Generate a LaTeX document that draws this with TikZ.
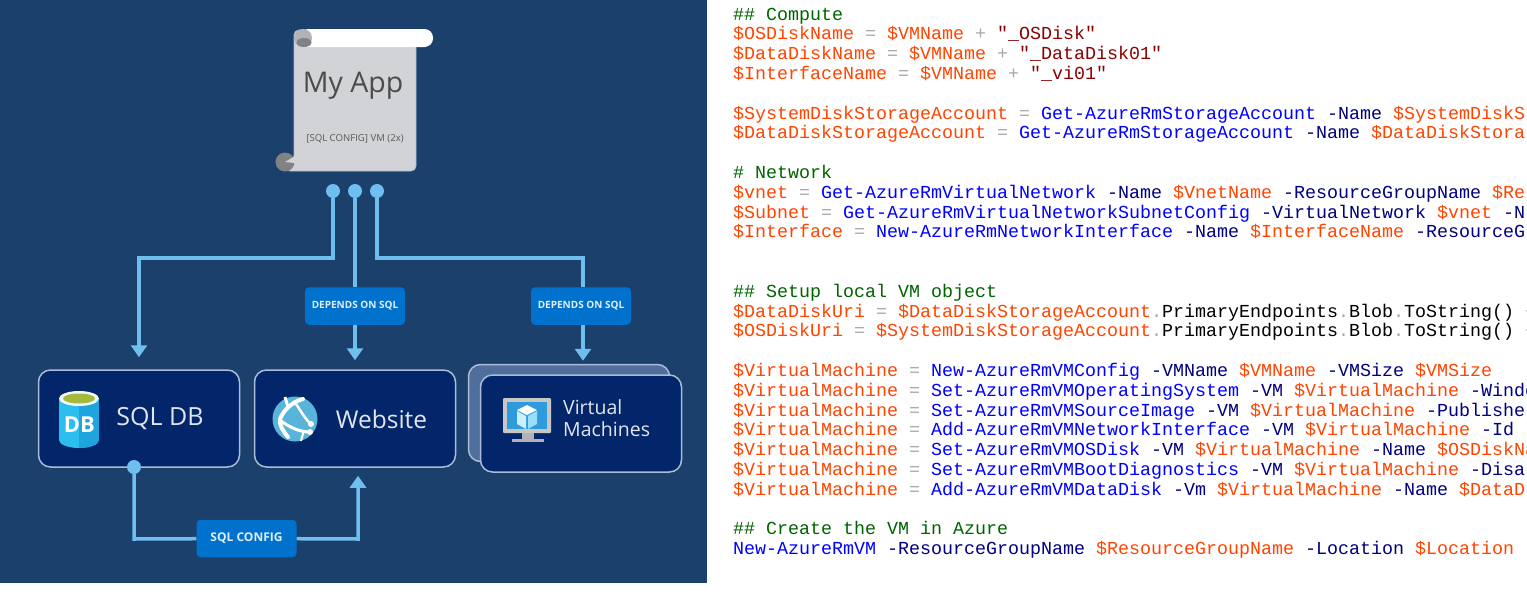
\documentclass[tikz,border=0pt]{standalone}
\usepackage{fontspec}
\setmainfont{Open Sans}
\setmonofont{Liberation Mono}
\usetikzlibrary{arrows.meta,positioning}
\definecolor{panelblue}{RGB}{26,64,107}
\definecolor{boxnavy}{RGB}{3,38,107}
\definecolor{boxrim}{RGB}{170,188,215}
\definecolor{backbox}{RGB}{80,110,155}
\definecolor{linkblue}{RGB}{110,190,240}
\definecolor{tagblue}{RGB}{0,114,206}
\definecolor{scrollgrey}{RGB}{210,211,214}
\definecolor{rollgrey}{RGB}{128,130,134}
\definecolor{dbcyan}{RGB}{45,190,240}
\definecolor{dbshade}{RGB}{30,165,222}
\definecolor{dbolive}{RGB}{165,185,60}
\definecolor{globeblue}{RGB}{89,180,217}
\definecolor{psorange}{RGB}{255,69,0}
\definecolor{psblue}{RGB}{0,0,255}
\definecolor{psnavy}{RGB}{0,0,128}
\definecolor{psgrey}{RGB}{169,169,169}
\definecolor{psred}{RGB}{139,0,0}
\definecolor{psgreen}{RGB}{0,100,0}
\newcommand{\psvar}[1]{\textcolor{psorange}{\$#1}}
\newcommand{\pscmd}[1]{\textcolor{psblue}{#1}}
\newcommand{\psarg}[1]{\textcolor{psnavy}{#1}}
\newcommand{\psop}[1]{\textcolor{psgrey}{#1}}
\newcommand{\psstr}[1]{\textcolor{psred}{#1}}
\newcommand{\pscom}[1]{\textcolor{psgreen}{#1}}
\tikzset{
  servicebox/.style={draw=boxrim,fill=boxnavy,line width=1.5pt,rounded corners=12pt,minimum width=201pt,minimum height=97pt,inner sep=0pt},
  tagbox/.style={fill=tagblue,rounded corners=4pt,minimum width=100pt,minimum height=37.5pt,inner sep=0pt,text=white!88!tagblue,font=\fontsize{10}{12}\selectfont\bfseries},
  linkdot/.style={circle,fill=linkblue,minimum size=14pt,inner sep=0pt},
  link/.style={draw=linkblue,line width=3.5pt},
  linkarrow/.style={link,-{Triangle[width=16pt,length=12pt]}},
  servicelabel/.style={text=white!88!boxnavy,inner sep=0pt},
  codeline/.style={anchor=base west,inner sep=0pt,font=\ttfamily\fontsize{18.33}{20}\selectfont}
}
\begin{document}
\begin{tikzpicture}[x=1pt,y=-1pt]
\useasboundingbox (0,0) rectangle (1527,603);
\fill[white] (0,0) rectangle (1527,603);
\fill[panelblue] (0,0) rectangle (707,583);

% Scroll
\fill[scrollgrey,draw=boxrim,line width=0.8pt,rounded corners=5pt] (294,30) -- (416,30) -- (416,171) -- (285,171) -- (294,160) -- cycle;
\fill[white,rounded corners=8.5pt] (300,29) rectangle (433,47);
\fill[scrollgrey!85!black] (303,38) circle (9);
\fill[rollgrey] (304,42.5) ellipse (7.5 and 4.5);
\fill[rollgrey] (285,162) circle (9.5);
\fill[scrollgrey] (285,162) -- (295,156) -- (295,163) -- cycle;
\node[anchor=base,inner sep=0pt,text=black!70,font=\fontsize{28.5}{34}\selectfont] (appname) at (353,92.5) {My App};
\node[text=black!65,font=\fontsize{9.6}{11}\selectfont] (appnote) at (355,139) {[SQL CONFIG] VM (2x)};

% Services
\node[servicebox] (sqldb) at (139,418.5) {};
\node[servicebox] (website) at (355,418.5) {};
\node[servicebox,fill=backbox] (vmback) at (569,413) {};
\node[servicebox] (vmfront) at (581,423.5) {};
\node[servicelabel,font=\fontsize{25}{30}\selectfont] (sqllabel) at (160,418.5) {SQL DB};
\node[servicelabel,font=\fontsize{24.5}{30}\selectfont] (weblabel) at (381.5,419) {Website};
\node[servicelabel,align=left,anchor=west,font=\fontsize{19.5}{22}\selectfont] (vmlabel) at (563,418) {Virtual\\Machines};

% DB icon
\fill[dbcyan] (59,398) rectangle (99,440);
\fill[dbcyan] (79,440) ellipse (20 and 8);
\begin{scope}
\clip (79,385) rectangle (99,450);
\fill[dbshade] (59,398) rectangle (99,440);
\fill[dbshade] (79,440) ellipse (20 and 8);
\end{scope}
\fill[white!92!dbcyan] (79,398.5) ellipse (20 and 7.5);
\fill[dbolive] (79,398.5) ellipse (16 and 5);
\node[text=white,inner sep=0pt,font=\fontsize{22}{24}\selectfont\bfseries] (dbtext) at (79.5,425) {DB};

% Globe icon
\fill[globeblue] (295,419) circle (22.5);
\draw[white,line width=4pt,line cap=round] (303,399) .. controls (294,401) and (284,409) .. (280,419) .. controls (279,425) and (283,431) .. (288,437);
\draw[white,line width=3pt] (285,397) -- (288,407);
\draw[white,line width=2.5pt] (296,404) .. controls (301,411) and (305,419) .. (311,424);
\draw[white,line width=3pt] (281,421) .. controls (288,426) and (298,432) .. (310,432);
\draw[white,line width=2pt] (304,430) -- (301,441);
\fill[white] (311,424) circle (3);
\fill[white] (310,432) circle (3);

% Monitor icon
\fill[white!78!black,rounded corners=1pt] (503,398) rectangle (551,433);
\fill[cyan!75!blue!85] (507,402) rectangle (547,429);
\fill[white!70!black] (522,433) rectangle (534,439);
\fill[white!70!black] (512,439) rectangle (544,442);
\fill[white] (527,405) -- (537,410) -- (527,415) -- (517,410) -- cycle;
\fill[white!80!cyan] (517,411) -- (526,416) -- (526,429) -- (517,424) -- cycle;
\fill[white!60!cyan] (537,411) -- (528,416) -- (528,429) -- (537,424) -- cycle;

% Tags and dots
\node[linkdot] (dotleft) at (333,191) {};
\node[linkdot] (dotmid) at (355,191) {};
\node[linkdot] (dotright) at (377,191) {};
\node[linkdot] (dotsql) at (134,467) {};
\node[tagbox] (tagweb) at (355,306) {DEPENDS ON SQL};
\node[tagbox] (tagvm) at (581,306) {DEPENDS ON SQL};
\node[tagbox,font=\fontsize{12}{14}\selectfont\bfseries] (tagconfig) at (246.5,538.5) {SQL CONFIG};
\coordinate (bendleft) at (139,258);
\coordinate (bendright) at (583,258);
\coordinate (bendsql) at (134,539);
\coordinate (bendweb) at (358,539);

% Connectors
\draw[linkarrow,shorten >=12pt] (dotleft) |- (bendleft) -- (sqldb.north);
\draw[link] (dotmid) -- (tagweb);
\draw[linkarrow,shorten >=9pt] (tagweb) -- (website.north);
\draw[link] (dotright) |- (bendright) -- (bendright |- tagvm.north);
\draw[linkarrow,shorten >=3pt] (bendright |- tagvm.south) -- (bendright |- vmback.north);
\draw[link] (dotsql) -- (bendsql) -- (tagconfig);
\draw[linkarrow,shorten >=8pt] (tagconfig) -- (bendweb) -- (bendweb |- website.south);

% PowerShell listing
\begin{scope}
\clip (708,0) rectangle (1527,603);
\foreach \k/\code in {
  0/{\pscom{\#\# Compute}},
  1/{\psvar{OSDiskName} \psop{=} \psvar{VMName} \psop{+} \psstr{"\_OSDisk"}},
  2/{\psvar{DataDiskName} \psop{=} \psvar{VMName} \psop{+} \psstr{"\_DataDisk01"}},
  3/{\psvar{InterfaceName} \psop{=} \psvar{VMName} \psop{+} \psstr{"\_vi01"}},
  5/{\psvar{SystemDiskStorageAccount} \psop{=} \pscmd{Get-AzureRmStorageAccount} \psarg{-Name} \psvar{SystemDiskSt}},
  6/{\psvar{DataDiskStorageAccount} \psop{=} \pscmd{Get-AzureRmStorageAccount} \psarg{-Name} \psvar{DataDiskStora}},
  8/{\pscom{\# Network}},
  9/{\psvar{vnet} \psop{=} \pscmd{Get-AzureRmVirtualNetwork} \psarg{-Name} \psvar{VnetName} \psarg{-ResourceGroupName} \psvar{Re}},
  10/{\psvar{Subnet} \psop{=} \pscmd{Get-AzureRmVirtualNetworkSubnetConfig} \psarg{-VirtualNetwork} \psvar{vnet} \psarg{-N}},
  11/{\psvar{Interface} \psop{=} \pscmd{New-AzureRmNetworkInterface} \psarg{-Name} \psvar{InterfaceName} \psarg{-ResourceG}},
  14/{\pscom{\#\# Setup local VM object}},
  15/{\psvar{DataDiskUri} \psop{=} \psvar{DataDiskStorageAccount}\psop{.}PrimaryEndpoints\psop{.}Blob\psop{.}ToString() \psop{+}},
  16/{\psvar{OSDiskUri} \psop{=} \psvar{SystemDiskStorageAccount}\psop{.}PrimaryEndpoints\psop{.}Blob\psop{.}ToString() \psop{+}},
  18/{\psvar{VirtualMachine} \psop{=} \pscmd{New-AzureRmVMConfig} \psarg{-VMName} \psvar{VMName} \psarg{-VMSize} \psvar{VMSize}},
  19/{\psvar{VirtualMachine} \psop{=} \pscmd{Set-AzureRmVMOperatingSystem} \psarg{-VM} \psvar{VirtualMachine} \psarg{-Windo}},
  20/{\psvar{VirtualMachine} \psop{=} \pscmd{Set-AzureRmVMSourceImage} \psarg{-VM} \psvar{VirtualMachine} \psarg{-Publishe}},
  21/{\psvar{VirtualMachine} \psop{=} \pscmd{Add-AzureRmVMNetworkInterface} \psarg{-VM} \psvar{VirtualMachine} \psarg{-Id}},
  22/{\psvar{VirtualMachine} \psop{=} \pscmd{Set-AzureRmVMOSDisk} \psarg{-VM} \psvar{VirtualMachine} \psarg{-Name} \psvar{OSDiskNa}},
  23/{\psvar{VirtualMachine} \psop{=} \pscmd{Set-AzureRmVMBootDiagnostics} \psarg{-VM} \psvar{VirtualMachine} \psarg{-Disa}},
  24/{\psvar{VirtualMachine} \psop{=} \pscmd{Add-AzureRmVMDataDisk} \psarg{-Vm} \psvar{VirtualMachine} \psarg{-Name} \psvar{DataD}},
  26/{\pscom{\#\# Create the VM in Azure}},
  27/{\pscmd{New-AzureRmVM} \psarg{-ResourceGroupName} \psvar{ResourceGroupName} \psarg{-Location} \psvar{Location}}}
  \node[codeline] (line\k) at (733,{20+19.8*\k}) {\code};
\end{scope}
\end{tikzpicture}
\end{document}
